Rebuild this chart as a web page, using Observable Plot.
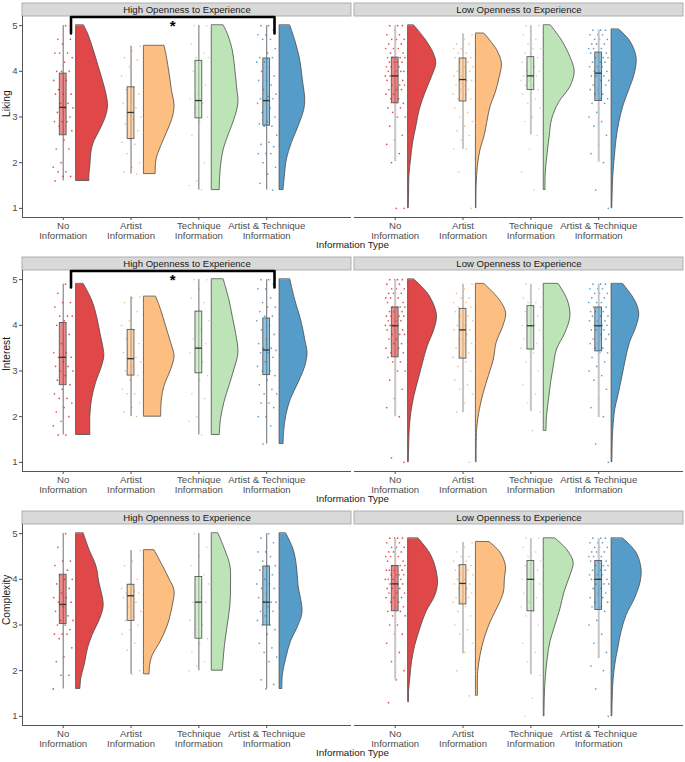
<!DOCTYPE html>
<html><head><meta charset="utf-8">
<script src="https://cdn.jsdelivr.net/npm/d3@7"></script>
<script src="https://cdn.jsdelivr.net/npm/@observablehq/plot@0.6"></script>
<style>
body{margin:0;background:#fff;font-family:"Liberation Sans",Arial,sans-serif;}
.row{width:685px;height:254px;overflow:visible}
.xtitle{height:13px;line-height:13px;font-size:9.8px;color:#1a1a1a;text-align:center;padding-left:20px;position:relative;top:-3px;box-sizing:border-box;width:685px}
</style></head><body><div id="root"></div><script>
// ---------- data ----------
const groups = ["No Information", "Artist Information", "Technique Information", "Artist & Technique Information"];
const tickLabels = ["No\nInformation", "Artist\nInformation", "Technique\nInformation", "Artist & Technique\nInformation"];
const openness = ["High Openness to Experience", "Low Openness to Experience"];
const measures = ["Liking", "Interest", "Complexity"];
const yTicks = [1, 2, 3, 4, 5];
const colors = ["#d7191c", "#fdae61", "#abdda4", "#2b83ba"];

// box stats per group: [lower whisker, q1, median, q3, upper whisker]
const likingHighBox = [[1.60,2.60,3.21,3.95,5.0],[1.75,2.52,3.10,3.65,4.55],[1.40,2.97,3.36,4.23,5.0],[1.40,2.81,3.36,4.28,5.0]];
const likingLowBox = [[2.02,3.30,3.90,4.30,5.0],[2.29,3.34,3.82,4.28,4.82],[2.61,3.59,3.90,4.31,5.0],[2.01,3.35,3.96,4.41,4.91]];
const interestHighBox = [[1.60,2.69,3.30,4.05,4.90],[2.00,2.90,3.27,3.90,4.62],[1.60,2.95,3.50,4.30,5.0],[1.40,2.91,3.46,4.15,5.0]];
const interestLowBox = [[2.0,3.30,3.99,4.39,5.0],[2.09,3.27,3.90,4.36,4.90],[2.11,3.47,3.99,4.42,4.90],[1.98,3.43,3.99,4.39,4.90]];
const complexityHighBox = [[1.60,3.02,3.45,4.10,5.0],[1.92,3.09,3.64,3.88,4.63],[2.0,2.70,3.50,4.05,5.0],[1.60,2.99,3.50,4.28,5.0]];
const complexityLowBox = [[1.80,3.30,3.90,4.29,4.89],[2.37,3.45,3.91,4.31,4.81],[1.91,3.30,4.00,4.40,4.89],[2.29,3.33,4.00,4.40,4.89]];

// half-violin density profiles per group: [value, density]
const likingHighViolin = [
 [[5.0,8],[4.82,12],[4.46,17.7],[4.10,22.7],[3.73,27.7],[3.44,31],[3.23,32],[3.01,30],[2.72,24.3],[2.43,17.7],[2.22,15.3],[1.93,14.3],[1.71,13.3],[1.60,13.3]],
 [[4.55,20.7],[4.31,23],[3.95,25.7],[3.59,28],[3.23,30.7],[2.94,28.3],[2.65,23],[2.36,17.3],[2.07,12.7],[1.75,11.7]],
 [[5.0,12],[4.82,16],[4.46,21],[4.10,23.3],[3.66,25.3],[3.30,26.7],[2.94,22.7],[2.65,17.7],[2.29,12],[1.93,9.3],[1.64,8.3],[1.40,8]],
 [[5.0,10.7],[4.67,15.7],[4.24,20.7],[3.81,23.3],[3.37,25.7],[3.16,24.7],[2.79,19],[2.43,12.3],[2.07,7.3],[1.64,5],[1.40,4]]
];
const likingLowViolin = [
 [[5.0,6.3],[4.67,18.3],[4.39,25.7],[4.17,28.3],[3.88,24],[3.52,17.3],[3.16,11.7],[2.79,8.3],[2.43,5],[2.07,3],[1.71,1.3],[1.35,1],[1.0,0.7]],
 [[4.82,8.7],[4.46,21.3],[4.17,26],[3.88,24],[3.52,19.7],[3.23,14.7],[2.87,11.3],[2.58,8.7],[2.29,4.7],[1.93,2],[1.49,0.7],[1.0,0.5]],
 [[5.0,7.3],[4.67,18.3],[4.31,26.7],[3.99,31],[3.66,26.7],[3.30,15],[2.94,8.3],[2.58,6],[2.22,4],[1.78,2],[1.40,1.7]],
 [[4.91,7.7],[4.67,18.3],[4.31,25],[3.95,23.3],[3.59,17.7],[3.23,11.7],[2.87,7.7],[2.51,5],[2.14,3.3],[1.71,1.7],[1.0,0.7]]
];
const interestHighViolin = [
 [[4.9,7.7],[4.55,16],[4.19,21],[3.83,24.3],[3.47,27.7],[3.32,28.3],[3.10,26],[2.74,20],[2.38,16],[2.02,14.3],[1.60,14.3]],
 [[4.62,12.3],[4.33,17.3],[3.97,22.3],[3.61,27.3],[3.32,30.7],[3.03,27.3],[2.67,20.7],[2.38,18],[2.0,17.3]],
 [[5.0,12],[4.55,17.7],[4.19,21],[3.83,24.3],[3.39,26.7],[3.03,22.7],[2.67,17.7],[2.31,12.7],[1.95,9.3],[1.60,8]],
 [[5.0,10.7],[4.55,15.7],[4.05,22.3],[3.68,25.7],[3.39,28],[3.10,25.7],[2.74,19],[2.38,11.3],[2.02,6.7],[1.66,4.5],[1.40,4]]
];
const interestLowViolin = [
 [[5.0,6.3],[4.70,19.7],[4.41,26.7],[4.19,29],[3.90,26.3],[3.54,19.7],[3.18,15],[2.82,10.7],[2.45,6.3],[2.09,3.3],[1.73,1.7],[1.30,1],[1.0,0.7]],
 [[4.90,8.7],[4.55,24],[4.26,30.3],[3.97,27.3],[3.61,20.7],[3.25,18],[2.89,13],[2.53,8],[2.16,4],[1.73,1.3],[1.0,0.7]],
 [[4.90,15],[4.55,24],[4.19,26.7],[3.83,21.7],[3.47,13.3],[3.10,10],[2.74,7.3],[2.38,5.3],[2.02,3.3],[1.69,2.7]],
 [[4.90,11.7],[4.55,23.3],[4.26,27.7],[3.97,25],[3.61,18.3],[3.25,14.3],[2.89,11],[2.45,6.7],[2.16,3.7],[1.73,1.7],[1.0,0.7]]
];
const complexityHighViolin = [
 [[5.0,7.7],[4.65,13.3],[4.29,20.3],[3.93,23.3],[3.43,27.7],[3.14,24.3],[2.78,16.7],[2.49,12],[2.13,8.7],[1.84,5.3],[1.60,4.3]],
 [[4.63,10.7],[4.29,19],[4.00,25.7],[3.75,30.7],[3.43,29],[2.99,24],[2.63,16.7],[2.34,9],[2.13,6.3],[1.92,5.7]],
 [[5.0,6.7],[4.65,13.3],[4.29,18.7],[3.86,19.3],[3.43,18.7],[2.99,16],[2.56,13.3],[2.26,12],[2.0,11]],
 [[5.0,6.7],[4.65,14],[4.29,17.3],[3.86,19],[3.28,23],[2.99,19],[2.63,11.3],[2.27,6.7],[1.91,3.3],[1.60,2.7]]
];
const complexityLowViolin = [
 [[4.89,10.7],[4.58,21.7],[4.29,27.3],[3.93,30],[3.64,27.3],[3.28,18.3],[2.92,12.3],[2.56,7.3],[2.20,4],[1.84,2.3],[1.55,1],[1.31,1]],
 [[4.81,14],[4.58,24.7],[4.29,30],[4.00,29],[3.71,28],[3.43,23],[3.06,14.7],[2.70,8.7],[2.34,4.7],[1.97,2.3],[1.45,2]],
 [[4.89,11.7],[4.65,23.3],[4.36,30],[4.08,26.7],[3.71,20.7],[3.35,16.7],[2.99,11.7],[2.63,6.7],[2.27,4],[1.84,2],[1.40,1],[1.0,0.7]],
 [[4.89,11.7],[4.58,25],[4.22,30],[3.93,29],[3.57,23.3],[3.21,15],[2.85,10],[2.49,6.7],[2.13,3.7],[1.70,1.7],[1.0,0.7]]
];

// individual ratings per group
const likingHighPoints = [
 [5.0,4.7,4.7,4.6,4.4,4.4,4.4,4.3,4.2,4.0,4.0,4.0,3.8,3.8,3.6,3.5,3.5,3.5,3.3,3.3,3.2,3.2,3.1,3.0,2.9,2.9,2.9,2.8,2.7,2.5,2.3,2.3,2.0,1.9,1.8,1.8,1.7,1.7,1.6],
 [4.55,4.45,4.3,4.25,4.1,3.9,3.65,3.6,3.5,3.45,3.3,3.2,3.1,3.0,2.95,2.85,2.7,2.5,2.45,2.4,2.2,2.0,1.9,1.8,1.75],
 [5.0,5.0,5.0,4.6,4.4,4.3,4.3,4.2,4.0,3.7,3.5,3.4,3.3,3.2,3.0,2.9,2.6,2.0,1.6,1.5,1.4],
 [5.0,5.0,4.9,4.8,4.8,4.7,4.7,4.5,4.4,4.3,4.3,4.2,4.2,4.1,4.0,3.9,3.8,3.8,3.7,3.6,3.5,3.45,3.4,3.4,3.35,3.3,3.2,3.1,3.0,2.9,2.85,2.8,2.8,2.6,2.45,2.4,2.35,2.2,2.2,2.2,2.0,1.9,1.75,1.55,1.4]
];
const likingLowPoints = [
 [5.0,5.0,5.0,4.9,4.8,4.8,4.7,4.7,4.7,4.6,4.6,4.5,4.5,4.5,4.4,4.4,4.4,4.3,4.3,4.3,4.3,4.2,4.2,4.2,4.2,4.1,4.1,4.1,4.0,4.0,4.0,4.0,3.9,3.9,3.9,3.9,3.8,3.8,3.8,3.7,3.7,3.7,3.6,3.6,3.6,3.5,3.5,3.4,3.4,3.3,3.3,3.2,3.2,3.1,3.0,3.0,2.8,2.6,2.5,2.4,2.2,2.0,1.0,1.0],
 [4.8,4.7,4.6,4.6,4.5,4.5,4.4,4.4,4.3,4.3,4.3,4.2,4.2,4.1,4.1,4.0,4.0,3.9,3.9,3.8,3.8,3.8,3.7,3.7,3.6,3.6,3.5,3.5,3.4,3.4,3.3,3.2,3.1,3.0,2.9,2.8,2.7,2.6,2.5,2.3,2.3,1.8,1.0],
 [5.0,5.0,4.9,4.8,4.7,4.6,4.5,4.5,4.4,4.3,4.3,4.2,4.1,4.0,4.0,3.9,3.9,3.9,3.8,3.8,3.7,3.7,3.6,3.6,3.5,3.4,3.3,3.2,3.0,2.9,2.6,2.3,1.8,1.4],
 [4.9,4.9,4.9,4.8,4.8,4.8,4.7,4.7,4.7,4.6,4.6,4.6,4.5,4.5,4.5,4.4,4.4,4.4,4.3,4.3,4.3,4.2,4.2,4.2,4.1,4.1,4.1,4.0,4.0,4.0,3.9,3.9,3.9,3.8,3.8,3.7,3.7,3.6,3.6,3.5,3.5,3.4,3.4,3.3,3.3,3.1,3.0,2.9,2.8,2.6,2.4,2.2,2.0,1.4,1.0]
];
const interestHighPoints = [
 [4.9,4.7,4.5,4.5,4.4,4.2,4.2,4.2,4.1,4.0,3.8,3.6,3.4,3.4,3.3,3.3,3.2,3.1,3.1,3.0,3.0,2.9,2.8,2.7,2.6,2.5,2.4,2.4,2.3,2.2,2.1,2.0,1.9,1.8,1.6,1.6],
 [4.62,4.6,4.5,4.3,4.1,4.0,3.9,3.7,3.6,3.5,3.4,3.3,3.3,3.2,3.1,3.0,2.9,2.8,2.6,2.5,2.5,2.3,2.2,2.1,2.0],
 [5.0,5.0,4.8,4.6,4.5,4.3,4.1,3.9,3.7,3.6,3.5,3.4,3.2,3.0,2.9,2.8,2.5,2.4,2.0,1.9,1.6],
 [5.0,5.0,4.9,4.8,4.8,4.6,4.5,4.4,4.4,4.3,4.2,4.2,4.1,4.0,3.9,3.8,3.7,3.6,3.5,3.5,3.45,3.4,3.4,3.3,3.2,3.1,3.0,3.0,2.9,2.8,2.7,2.6,2.5,2.5,2.3,2.3,2.2,2.0,2.0,1.8,1.4]
];
const interestLowPoints = [
 [5.0,5.0,5.0,5.0,4.9,4.9,4.8,4.8,4.8,4.7,4.7,4.7,4.6,4.6,4.6,4.5,4.5,4.5,4.4,4.4,4.4,4.4,4.3,4.3,4.3,4.2,4.2,4.2,4.2,4.1,4.1,4.1,4.0,4.0,4.0,4.0,3.9,3.9,3.9,3.8,3.8,3.8,3.7,3.7,3.6,3.6,3.5,3.5,3.4,3.4,3.3,3.3,3.2,3.2,3.0,3.0,2.8,2.6,2.4,2.2,2.0,1.1,1.0],
 [4.9,4.8,4.7,4.6,4.6,4.5,4.5,4.4,4.4,4.3,4.3,4.2,4.2,4.1,4.0,4.0,3.9,3.9,3.9,3.8,3.7,3.6,3.6,3.5,3.4,3.3,3.3,3.2,3.1,3.0,2.9,2.8,2.7,2.6,2.5,2.3,2.1,1.0],
 [4.9,4.8,4.7,4.6,4.5,4.5,4.4,4.4,4.3,4.2,4.1,4.0,4.0,4.0,3.9,3.8,3.7,3.6,3.5,3.5,3.4,3.2,3.0,2.9,2.7,2.5,2.3,2.1,1.7],
 [4.9,4.9,4.9,4.8,4.8,4.8,4.7,4.7,4.7,4.6,4.6,4.5,4.5,4.5,4.4,4.4,4.4,4.3,4.3,4.3,4.2,4.2,4.2,4.1,4.1,4.1,4.0,4.0,4.0,4.0,3.9,3.9,3.9,3.8,3.8,3.7,3.7,3.6,3.6,3.5,3.5,3.4,3.4,3.3,3.2,3.1,3.0,2.9,2.8,2.6,2.4,2.2,2.0,1.4,1.0]
];
const complexityHighPoints = [
 [5.0,4.7,4.4,4.4,4.3,4.2,4.1,4.0,4.0,3.9,3.8,3.7,3.6,3.6,3.5,3.5,3.4,3.3,3.2,3.1,3.1,3.0,3.0,2.9,2.8,2.8,2.8,2.7,2.5,2.3,2.2,1.9,1.9,1.6],
 [4.63,4.4,4.3,4.0,3.9,3.8,3.75,3.7,3.7,3.65,3.6,3.5,3.4,3.3,3.2,3.1,3.0,2.9,2.8,2.6,2.45,2.0,1.92],
 [5.0,4.7,4.5,4.3,4.1,4.0,3.9,3.6,3.5,3.5,3.3,3.1,3.0,2.9,2.7,2.6,2.4,2.2,2.1,2.0],
 [5.0,4.9,4.8,4.6,4.6,4.5,4.4,4.3,4.3,4.2,4.1,4.0,3.9,3.9,3.8,3.8,3.7,3.6,3.5,3.5,3.5,3.4,3.3,3.3,3.2,3.1,3.0,3.0,2.9,2.8,2.6,2.5,2.4,2.3,2.2,1.8,1.7,1.6]
];
const complexityLowPoints = [
 [4.9,4.9,4.9,4.9,4.8,4.8,4.7,4.7,4.7,4.6,4.6,4.6,4.5,4.5,4.5,4.4,4.4,4.4,4.3,4.3,4.3,4.3,4.2,4.2,4.2,4.2,4.1,4.1,4.1,4.1,4.0,4.0,4.0,4.0,3.9,3.9,3.9,3.9,3.8,3.8,3.8,3.7,3.7,3.7,3.6,3.6,3.6,3.5,3.5,3.4,3.4,3.3,3.3,3.2,3.2,3.0,3.0,2.8,2.8,2.6,2.4,2.2,2.0,1.8,1.3],
 [4.8,4.7,4.6,4.5,4.5,4.4,4.4,4.3,4.3,4.3,4.2,4.2,4.1,4.1,4.0,4.0,3.9,3.9,3.9,3.8,3.8,3.7,3.7,3.6,3.6,3.5,3.5,3.4,3.3,3.2,3.1,3.0,2.9,2.8,2.6,2.4,2.0,1.45],
 [4.9,4.9,4.8,4.7,4.6,4.5,4.4,4.4,4.3,4.2,4.1,4.0,4.0,4.0,3.9,3.8,3.7,3.6,3.5,3.4,3.3,3.2,3.0,2.8,2.6,2.4,2.2,1.9,1.4,1.0],
 [4.9,4.9,4.9,4.8,4.8,4.8,4.7,4.7,4.7,4.6,4.6,4.6,4.5,4.5,4.5,4.4,4.4,4.4,4.3,4.3,4.3,4.2,4.2,4.2,4.1,4.1,4.1,4.0,4.0,4.0,4.0,3.9,3.9,3.9,3.8,3.8,3.7,3.7,3.6,3.6,3.5,3.5,3.4,3.4,3.3,3.1,3.0,2.8,2.6,2.4,2.3,2.1,2.0,1.6,1.0]
];

// significance brackets (group numbers 1..4)
const sigBrackets = [
 {measure: "Liking", openness: "High Openness to Experience", from: 1, to: 4, label: "*"},
 {measure: "Interest", openness: "High Openness to Experience", from: 1, to: 4, label: "*"}
];

// ---------- layout constants ----------
const W = 685, H = 241, MT = 16, MB = 24, ML = 21, MR = 2;
const X0 = 0.4, X1 = 5.25, Y0 = 0.8, Y1 = 5.2;
const PX_PER_Y = (H - MT - MB) / (Y1 - Y0);
const PX_PER_X = 68;
const STRIP = 13 / PX_PER_Y;
const BOX_HALF = 0.05, VIOLIN_OFFSET = 0.19, JITTER = 0.3;
const BRACKET_TOP = 5.19, BRACKET_LEG = 0.36, BRACKET_IN = 0.115;
const jitter = i => ((((i + 1) * 0.6180339887) % 1) - 0.5) * JITTER;
const FONT = '"Liberation Sans", Arial, sans-serif';

function rowChart(measure, boxData, violinData, pointData) {
  const boxes = [], viol = [], dots = [];
  openness.forEach((o, oi) => {
    boxData[oi].forEach((b, g) => boxes.push({fx: o, g, pos: g + 1, min: b[0], q1: b[1], med: b[2], q3: b[3], max: b[4]}));
    violinData[oi].forEach((prof, g) => prof.forEach(([y, d]) =>
      viol.push({fx: o, g, key: oi * 10 + g, y, x1: g + 1 + VIOLIN_OFFSET, x2: g + 1 + VIOLIN_OFFSET + d / PX_PER_X})));
    pointData[oi].forEach((vals, g) => vals.forEach((v, i) => dots.push({fx: o, g, x: g + 1 + jitter(i + g * 7), y: v})));
  });
  const frames = openness.map(fx => ({fx, x0: X0, x1: X1, y0: Y0, y1: Y1}));
  const br = sigBrackets.filter(b => b.measure === measure);
  const brLines = [];
  br.forEach((b, k) => {
    const a = b.from + BRACKET_IN, c = b.to + BRACKET_IN;
    [[a, BRACKET_TOP - BRACKET_LEG], [a, BRACKET_TOP], [c, BRACKET_TOP], [c, BRACKET_TOP - BRACKET_LEG]]
      .forEach(([x, y]) => brLines.push({fx: b.openness, k, x, y}));
  });
  const brText = br.map(b => ({fx: b.openness, x: (b.from + b.to) / 2 + BRACKET_IN, y: BRACKET_TOP - 0.2, label: b.label}));

  return Plot.plot({
    width: W, height: H, marginTop: MT, marginBottom: MB, marginLeft: ML, marginRight: MR,
    style: {fontFamily: FONT, background: "white", overflow: "visible"},
    fx: {domain: openness, axis: null, paddingInner: 0.01, paddingOuter: 0},
    x: {domain: [X0, X1]},
    y: {domain: [Y0, Y1]},
    color: {type: "ordinal", domain: [0, 1, 2, 3], range: colors},
    marks: [
      // strips
      Plot.rect(frames, {fx: "fx", x1: "x0", x2: "x1", y1: "y1", y2: d => d.y1 + STRIP, fill: "#d9d9d9", stroke: "#a8a8a8", strokeWidth: 0.9}),
      Plot.text(frames, {fx: "fx", x: d => (d.x0 + d.x1) / 2, y: d => d.y1 + STRIP / 2, text: "fx", fontSize: 9.6, fill: "#1a1a1a"}),
      // axis lines
      Plot.ruleY(frames, {fx: "fx", y: "y0", stroke: "#555", strokeWidth: 1}),
      Plot.ruleX(frames.filter(d => d.fx === openness[0]), {fx: "fx", x: "x0", stroke: "#555", strokeWidth: 1}),
      Plot.axisX({ticks: [1, 2, 3, 4], tickFormat: i => tickLabels[i - 1], tickSize: 3, tickPadding: 1, fontSize: 9.6, color: "#4d4d4d", label: null, lineHeight: 1.05}),
      Plot.axisY({ticks: yTicks, tickFormat: d => String(d), tickSize: 3, tickPadding: 2, fontSize: 9.6, color: "#4d4d4d", label: null}),
      Plot.text([{fx: openness[0], t: measure}], {fx: "fx", text: "t", frameAnchor: "left", rotate: -90, dx: -16, fontSize: 10.2, fill: "#1a1a1a"}),
      // jittered points
      Plot.dot(dots, {fx: "fx", x: "x", y: "y", r: 0.85, fill: "g", fillOpacity: 0.75, stroke: null}),
      // whiskers
      Plot.ruleX(boxes.filter(d => d.fx === openness[0]), {fx: "fx", x: "pos", y1: "min", y2: "max", stroke: "#6e6e6e", strokeWidth: 1}),
      Plot.ruleX(boxes.filter(d => d.fx === openness[1]), {fx: "fx", x: "pos", y1: "min", y2: "max", stroke: "#c6c6c6", strokeWidth: 2}),
      // boxes
      Plot.rect(boxes, {fx: "fx", x1: d => d.pos - BOX_HALF, x2: d => d.pos + BOX_HALF, y1: "q1", y2: "q3", fill: "g", fillOpacity: 0.5, stroke: "#5a5a5a", strokeWidth: 0.9}),
      Plot.ruleY(boxes, {fx: "fx", y: "med", x1: d => d.pos - BOX_HALF, x2: d => d.pos + BOX_HALF, stroke: "#333", strokeWidth: 1.3}),
      // half violins
      Plot.areaX(viol, {fx: "fx", y: "y", x1: "x1", x2: "x2", z: "key", fill: "g", fillOpacity: 0.8, stroke: "#4a4a4a", strokeWidth: 0.8, curve: "catmull-rom"}),
      // significance
      Plot.line(brLines, {fx: "fx", x: "x", y: "y", z: "k", stroke: "black", strokeWidth: 2.6}),
      Plot.text(brText, {fx: "fx", x: "x", y: "y", text: "label", fontSize: 15, fontWeight: "bold", fill: "black"})
    ]
  });
}

const rows = [
  ["Liking", [likingHighBox, likingLowBox], [likingHighViolin, likingLowViolin], [likingHighPoints, likingLowPoints]],
  ["Interest", [interestHighBox, interestLowBox], [interestHighViolin, interestLowViolin], [interestHighPoints, interestLowPoints]],
  ["Complexity", [complexityHighBox, complexityLowBox], [complexityHighViolin, complexityLowViolin], [complexityHighPoints, complexityLowPoints]]
];
const root = document.getElementById("root");
rows.forEach(([m, b, v, p]) => {
  const row = document.createElement("div");
  row.className = "row";
  row.appendChild(rowChart(m, b, v, p));
  const t = document.createElement("div");
  t.className = "xtitle";
  t.textContent = "Information Type";
  row.appendChild(t);
  root.appendChild(row);
});
</script></body></html>
